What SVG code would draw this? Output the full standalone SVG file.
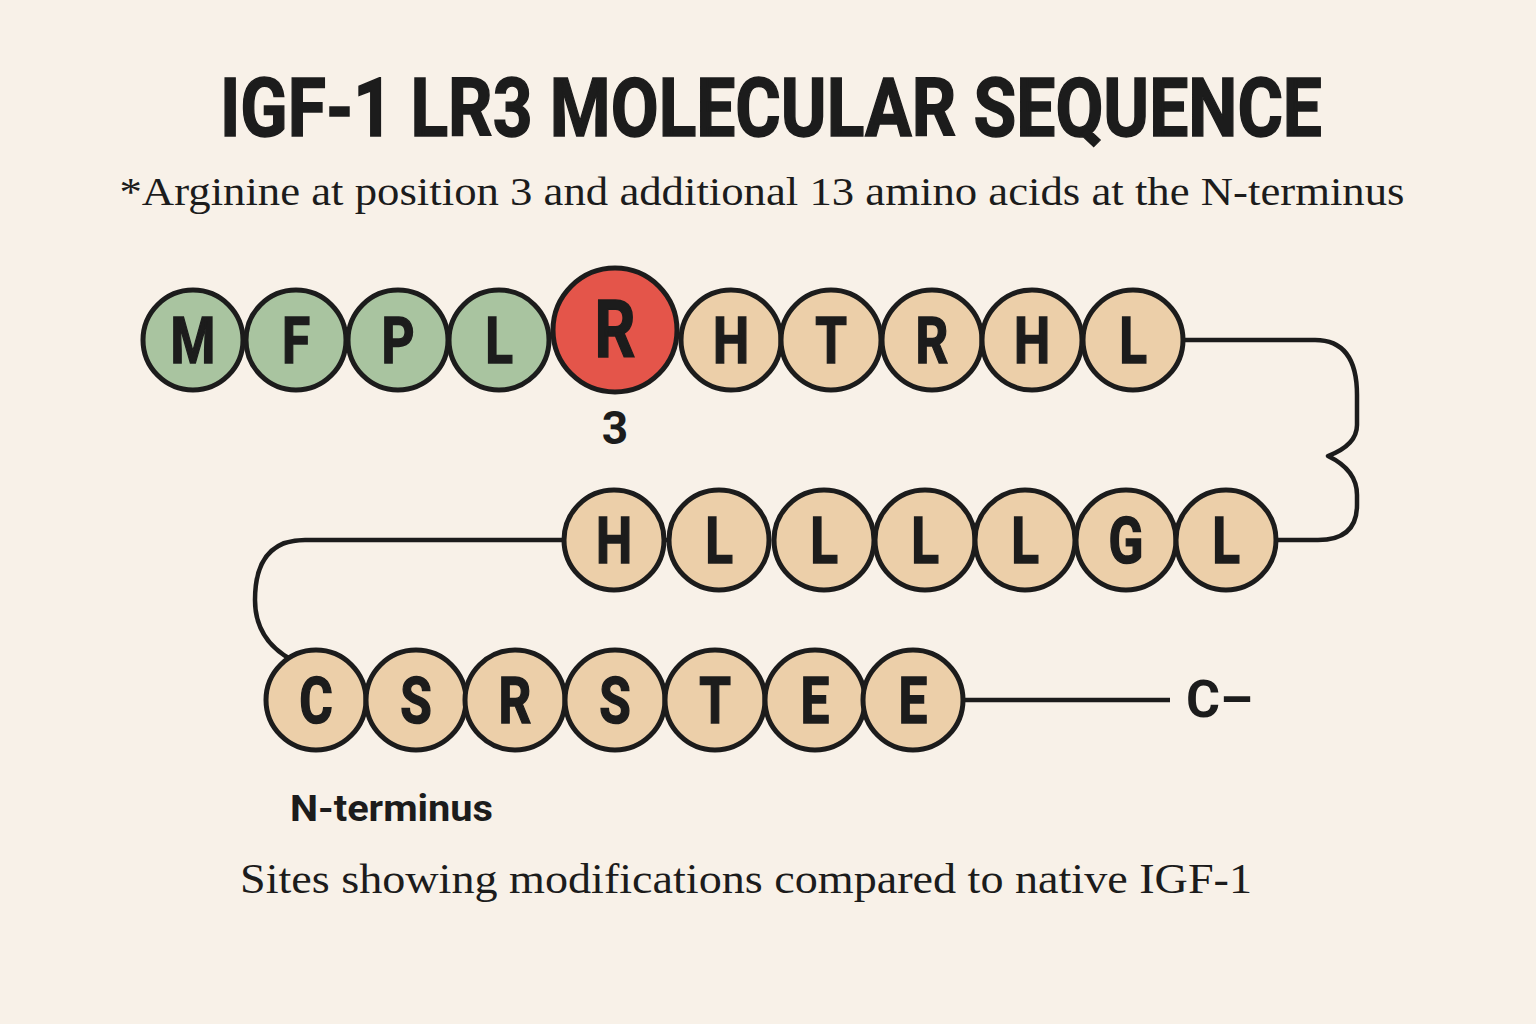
<svg xmlns="http://www.w3.org/2000/svg" width="1536" height="1024" viewBox="0 0 1536 1024">
<style>
.bg{fill:#f8f1e8}
.res{stroke:#1c1c1c;stroke-width:5}
.g{fill:#a9c4a0}
.r{fill:#e4554a}
.t{fill:#eccfa9}
.lt{font-family:Roboto,"Liberation Sans",sans-serif;font-weight:bold;font-size:64px;fill:#1c1c1c;stroke:#1c1c1c;stroke-width:1.5;text-anchor:middle}
.big{font-size:80px}
.conn{fill:none;stroke:#1c1c1c;stroke-width:4.5;stroke-linejoin:round}
.serif{font-family:"Liberation Serif","DejaVu Serif",serif;fill:#1c1c1c}
.sans{font-family:Roboto,"Liberation Sans",sans-serif;font-weight:bold;fill:#1c1c1c}
</style>
<rect class="bg" x="0" y="0" width="1536" height="1024"/>
<text class="sans" x="771" y="136" font-size="82" text-anchor="middle" textLength="1102" lengthAdjust="spacingAndGlyphs" stroke="#1c1c1c" stroke-width="1.5">IGF-1 LR3 MOLECULAR SEQUENCE</text>
<text class="serif" x="762" y="205" font-size="40" text-anchor="middle" textLength="1285" lengthAdjust="spacingAndGlyphs">*Arginine at position 3 and additional 13 amino acids at the N-terminus</text>
<g id="connectors">
<path class="conn" d="M1183,340 H1315 Q1357,340 1357,395 V425 Q1357,445 1328,456 Q1357,470 1357,495 V505 Q1357,540 1318,540 H1276"/>
<path class="conn" d="M565,540 H305 Q255,540 255,600 Q255,640 292,660"/>
<path class="conn" d="M963,700 H1170"/>
<path class="conn" d="M663,540 H668"/>
</g>
<g id="n1"><circle class="res g" cx="193" cy="340" r="50"/><text class="lt" transform="translate(193,363) scale(0.8,1)">M</text></g>
<g id="n2"><circle class="res g" cx="296" cy="340" r="50"/><text class="lt" transform="translate(296,363) scale(0.8,1)">F</text></g>
<g id="n3"><circle class="res g" cx="398" cy="340" r="50"/><text class="lt" transform="translate(398,363) scale(0.8,1)">P</text></g>
<g id="n4"><circle class="res g" cx="499" cy="340" r="50"/><text class="lt" transform="translate(499,363) scale(0.8,1)">L</text></g>
<g id="n5"><circle class="res r" cx="615" cy="330" r="62"/><text class="lt big" transform="translate(615,357) scale(0.8,1)">R</text></g>
<g id="n6"><circle class="res t" cx="731" cy="340" r="50"/><text class="lt" transform="translate(731,363) scale(0.8,1)">H</text></g>
<g id="n7"><circle class="res t" cx="831" cy="340" r="50"/><text class="lt" transform="translate(831,363) scale(0.8,1)">T</text></g>
<g id="n8"><circle class="res t" cx="932" cy="340" r="50"/><text class="lt" transform="translate(932,363) scale(0.8,1)">R</text></g>
<g id="n9"><circle class="res t" cx="1032" cy="340" r="50"/><text class="lt" transform="translate(1032,363) scale(0.8,1)">H</text></g>
<g id="n10"><circle class="res t" cx="1133" cy="340" r="50"/><text class="lt" transform="translate(1133,363) scale(0.8,1)">L</text></g>
<g id="n11"><circle class="res t" cx="614" cy="540" r="50"/><text class="lt" transform="translate(614,563) scale(0.8,1)">H</text></g>
<g id="n12"><circle class="res t" cx="719" cy="540" r="50"/><text class="lt" transform="translate(719,563) scale(0.8,1)">L</text></g>
<g id="n13"><circle class="res t" cx="824" cy="540" r="50"/><text class="lt" transform="translate(824,563) scale(0.8,1)">L</text></g>
<g id="n14"><circle class="res t" cx="925" cy="540" r="50"/><text class="lt" transform="translate(925,563) scale(0.8,1)">L</text></g>
<g id="n15"><circle class="res t" cx="1025" cy="540" r="50"/><text class="lt" transform="translate(1025,563) scale(0.8,1)">L</text></g>
<g id="n16"><circle class="res t" cx="1126" cy="540" r="50"/><text class="lt" transform="translate(1126,563) scale(0.8,1)">G</text></g>
<g id="n17"><circle class="res t" cx="1226" cy="540" r="50"/><text class="lt" transform="translate(1226,563) scale(0.8,1)">L</text></g>
<g id="n18"><circle class="res t" cx="316" cy="700" r="50"/><text class="lt" transform="translate(316,723) scale(0.8,1)">C</text></g>
<g id="n19"><circle class="res t" cx="416" cy="700" r="50"/><text class="lt" transform="translate(416,723) scale(0.8,1)">S</text></g>
<g id="n20"><circle class="res t" cx="515" cy="700" r="50"/><text class="lt" transform="translate(515,723) scale(0.8,1)">R</text></g>
<g id="n21"><circle class="res t" cx="615" cy="700" r="50"/><text class="lt" transform="translate(615,723) scale(0.8,1)">S</text></g>
<g id="n22"><circle class="res t" cx="715" cy="700" r="50"/><text class="lt" transform="translate(715,723) scale(0.8,1)">T</text></g>
<g id="n23"><circle class="res t" cx="815" cy="700" r="50"/><text class="lt" transform="translate(815,723) scale(0.8,1)">E</text></g>
<g id="n24"><circle class="res t" cx="913" cy="700" r="50"/><text class="lt" transform="translate(913,723) scale(0.8,1)">E</text></g>
<text class="sans" x="615" y="444" font-size="46" text-anchor="middle">3</text>
<text class="sans" x="1186" y="717" font-size="52">C–</text>
<text class="sans" x="290" y="821" font-size="37" textLength="203" lengthAdjust="spacingAndGlyphs">N-terminus</text>
<text class="serif" x="746" y="893" font-size="42" text-anchor="middle" textLength="1012" lengthAdjust="spacingAndGlyphs">Sites showing modifications compared to native IGF-1</text>
</svg>
